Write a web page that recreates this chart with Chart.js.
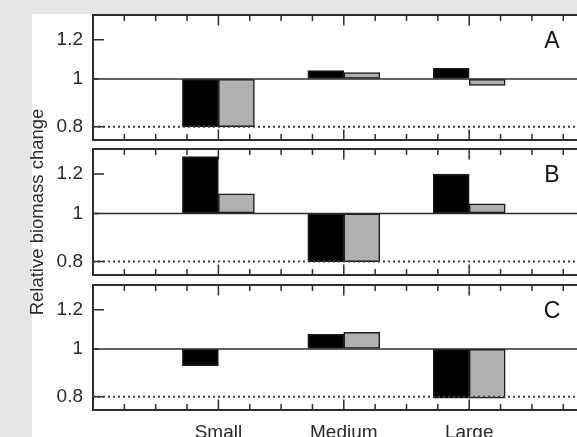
<!DOCTYPE html>
<html>
<head>
<meta charset="utf-8">
<script src="https://cdn.jsdelivr.net/npm/chart.js@4.4.1/dist/chart.umd.min.js"></script>
<style>
  html, body { margin: 0; padding: 0; width: 577px; height: 437px; overflow: hidden; background: #e6e6e6; }
  #paper { position: absolute; left: 32px; top: 14px; right: 0; bottom: 0; background: #ffffff; }
  canvas { position: absolute; left: 0; top: 0; }
</style>
</head>
<body>
<div id="paper"></div>
<canvas id="cA" width="577" height="437"></canvas>
<canvas id="cB" width="577" height="437"></canvas>
<canvas id="cC" width="577" height="437"></canvas>
<script>
// ---- data ----
const categories = ['Small', 'Medium', 'Large'];
const categoryPositions = [4, 8, 12];
const xTickValues = [1, 2, 3, 4, 5, 6, 7, 8, 9, 10, 11, 12, 13, 14, 15];
const yTickValues = [0.8, 0.9, 1.0, 1.1, 1.2, 1.3];
const yTickLabels = ['0.8', '', '1', '', '1.2', ''];
const panelLetters = ['A', 'B', 'C'];
const blackA = [0.80, 1.04, 1.05];
const greyA  = [0.80, 1.03, 0.97];
const blackB = [1.30, 0.80, 1.20];
const greyB  = [1.095, 0.80, 1.045];
const blackC = [0.925, 1.07, 0.795];
const greyC  = [1.00, 1.08, 0.795];
const referenceLevel = 1;
const dottedLevel = 0.8;
const yTitle = 'Relative biomass change';

// ---- styling / layout ----
const W = 577, H = 437;
const AXIS_LEFT = 93;
const X_UNIT = 31.35;
const X_MAX = (W - AXIS_LEFT) / X_UNIT;
const Y_MIN = 0.752, Y_MAX = 1.347;
const LETTER_X = 14.64;
const FONT = "'Liberation Sans', Arial, Helvetica, sans-serif";
const INK = '#2e2e2e';
const TEXT = '#2a2a2a';

const panels = [
  { id: 'cA', black: blackA, grey: greyA, top: 15,  bottom: 140, labels: false, title: false },
  { id: 'cB', black: blackB, grey: greyB, top: 149, bottom: 275, labels: false, title: true },
  { id: 'cC', black: blackC, grey: greyC, top: 285, bottom: 410, labels: true,  title: false }
];

const inwardTicks = {
  id: 'inwardTicks',
  beforeDatasetsDraw(chart) {
    const { ctx, chartArea: a, scales: { x, y } } = chart;
    ctx.save();
    ctx.strokeStyle = INK;
    ctx.lineWidth = 1.5;
    ctx.beginPath();
    x.ticks.forEach(t => {
      const px = x.getPixelForValue(t.value);
      const len = categoryPositions.includes(t.value) ? 10.5 : 6;
      ctx.moveTo(px, a.top); ctx.lineTo(px, a.top + len);
      ctx.moveTo(px, a.bottom); ctx.lineTo(px, a.bottom - len);
    });
    y.ticks.forEach((t, i) => {
      const py = y.getPixelForValue(t.value);
      const len = yTickLabels[i] ? 11 : 6;
      ctx.moveTo(a.left, py); ctx.lineTo(a.left + len, py);
    });
    ctx.stroke();
    ctx.restore();
  }
};

const panelLetter = {
  id: 'panelLetter',
  afterDraw(chart, args, opts) {
    const { ctx, chartArea: a, scales: { x } } = chart;
    ctx.save();
    ctx.fillStyle = '#111';
    ctx.font = '23px ' + FONT;
    ctx.textAlign = 'center';
    ctx.textBaseline = 'alphabetic';
    ctx.fillText(opts.text, x.getPixelForValue(LETTER_X), a.top + 32.5);
    ctx.restore();
  }
};

panels.forEach((p, idx) => {
  const barPoints = vals => vals.map((v, i) => ({ x: categoryPositions[i], y: v }));
  new Chart(document.getElementById(p.id), {
    data: {
      datasets: [
        { type: 'line', data: [{ x: 0, y: referenceLevel }, { x: X_MAX, y: referenceLevel }],
          borderColor: INK, borderWidth: 1.5, pointRadius: 0, order: 0, xAxisID: 'x', yAxisID: 'y' },
        { type: 'line', data: [{ x: 0, y: dottedLevel }, { x: X_MAX, y: dottedLevel }],
          borderColor: '#3a3a3a', borderWidth: 2, borderDash: [2, 3], pointRadius: 0, order: 0, xAxisID: 'x', yAxisID: 'y' },
        { type: 'bar', data: barPoints(p.black), base: referenceLevel, backgroundColor: '#000000',
          borderColor: '#1a1a1a', borderWidth: 1.5, borderSkipped: false, barThickness: 36, order: 1, xAxisID: 'x', yAxisID: 'y' },
        { type: 'bar', data: barPoints(p.grey), base: referenceLevel, backgroundColor: '#b0b0b0',
          borderColor: '#1a1a1a', borderWidth: 1.5, borderSkipped: false, barThickness: 36, order: 1, xAxisID: 'x', yAxisID: 'y' }
      ]
    },
    options: {
      responsive: false,
      animation: false,
      devicePixelRatio: 1,
      layout: { padding: { top: p.top, bottom: p.labels ? 0 : H - p.bottom, left: 0, right: 0 } },
      plugins: {
        legend: { display: false },
        tooltip: { enabled: false },
        panelLetter: { text: panelLetters[idx] }
      },
      scales: {
        x: {
          type: 'linear', position: 'bottom', min: 0, max: X_MAX, bounds: 'data', offset: false,
          afterBuildTicks: s => { s.ticks = xTickValues.map(v => ({ value: v })); },
          afterFit: s => { s.height = p.labels ? H - p.bottom : 0; s.paddingLeft = 0; s.paddingRight = 0; },
          grid: { drawOnChartArea: false, drawTicks: false, offset: false },
          border: { display: true, color: INK, width: 2 },
          ticks: {
            display: p.labels, autoSkip: false, maxRotation: 0, padding: 11, color: TEXT,
            font: { family: FONT, size: 19 },
            callback: v => { const k = categoryPositions.indexOf(v); return k >= 0 ? categories[k] : ''; }
          }
        },
        x2: {
          type: 'linear', position: 'top', min: 0, max: X_MAX, bounds: 'data', offset: false,
          afterFit: s => { s.height = 0; s.paddingLeft = 0; s.paddingRight = 0; },
          grid: { drawOnChartArea: false, drawTicks: false, offset: false },
          border: { display: true, color: INK, width: 2 },
          ticks: { display: false }
        },
        y: {
          type: 'logarithmic', position: 'left', min: Y_MIN, max: Y_MAX, bounds: 'data',
          afterBuildTicks: s => { s.ticks = yTickValues.map(v => ({ value: v })); },
          afterFit: s => { s.width = AXIS_LEFT; s.paddingTop = 0; s.paddingBottom = 0; },
          grid: { drawOnChartArea: false, drawTicks: false },
          border: { display: true, color: INK, width: 2 },
          ticks: {
            padding: 10, color: TEXT, font: { family: FONT, size: 19 },
            callback: (v, i) => yTickLabels[i] || ''
          },
          title: {
            display: p.title, text: yTitle, color: TEXT,
            font: { family: FONT, size: 18.5 }, padding: { top: 27, bottom: 0 }
          }
        }
      }
    },
    plugins: [inwardTicks, panelLetter]
  });
});
</script>
</body>
</html>
